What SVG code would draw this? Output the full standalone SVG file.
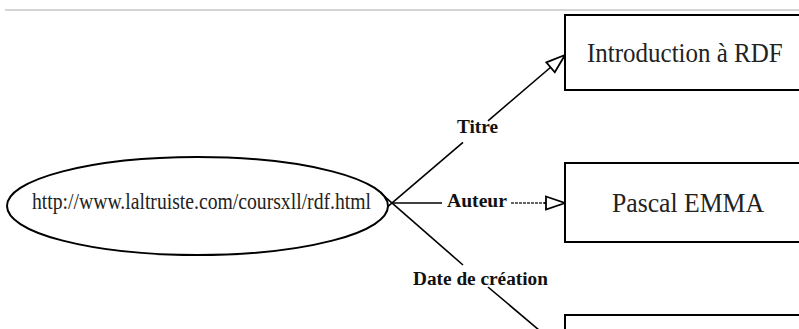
<svg xmlns="http://www.w3.org/2000/svg" width="799" height="329" viewBox="0 0 799 329">
  <style>
    .node { fill: #fff; stroke: #000; stroke-width: 2; }
    .val { font-family: "Liberation Serif", "Times New Roman", serif; font-size: 28px; fill: #222; }
    .uri { font-family: "Liberation Serif", "Times New Roman", serif; font-size: 24px; fill: #222; }
    .lbl { font-family: "Liberation Serif", "Times New Roman", serif; font-size: 18px; font-weight: bold; fill: #111; }
    .edge { stroke: #000; stroke-width: 1.6; fill: none; }
  </style>
  <defs>
    <marker id="open" markerUnits="userSpaceOnUse" markerWidth="24" markerHeight="18" viewBox="-2 -2 24 18" refX="19" refY="6.5" orient="auto">
      <path d="M0,0 L19,6.5 L0,13 Z" fill="#fff" stroke="#000" stroke-width="1.8"/>
    </marker>
  </defs>
  <rect width="799" height="329" fill="#fff"/>
  <line x1="5" y1="10" x2="799" y2="10" stroke="#aaa" stroke-width="1"/>

  <g id="edges">
    <!-- Titre -->
    <line class="edge" x1="381" y1="212.4" x2="463" y2="142.3"/>
    <line class="edge" x1="488" y1="120.9" x2="565" y2="55" marker-end="url(#open)"/>
    <text class="lbl" x="457" y="133" textLength="41" lengthAdjust="spacingAndGlyphs">Titre</text>
    <!-- Auteur -->
    <line class="edge" x1="392" y1="203" x2="442" y2="203"/>
    <text class="lbl" x="447" y="207" textLength="60" lengthAdjust="spacingAndGlyphs">Auteur</text>
    <line x1="511" y1="203" x2="546" y2="203" stroke="#333" stroke-width="1.4" stroke-dasharray="3 1"/>
    <line class="edge" x1="544" y1="203" x2="565" y2="203" marker-end="url(#open)"/>
    <!-- Date de création -->
    <line class="edge" x1="381" y1="193.4" x2="463" y2="265"/>
    <text class="lbl" x="413" y="285" textLength="135" lengthAdjust="spacingAndGlyphs">Date de création</text>
    <line class="edge" x1="488" y1="287" x2="565" y2="352" marker-end="url(#open)"/>
  </g>

  <g id="resource">
    <ellipse class="node" cx="197.5" cy="206" rx="190.5" ry="49" stroke-width="1.6"/>
    <text class="uri" x="32" y="209" textLength="339" lengthAdjust="spacingAndGlyphs">http://www.laltruiste.com/coursxll/rdf.html</text>
  </g>

  <g id="titre-value">
    <rect class="node" x="565" y="15" width="236" height="75"/>
    <!-- slightly tall face: 25px glyphs stretched vertically -->
    <text class="val" style="font-size:25px" transform="translate(587 62) scale(1 1.12)" x="0" y="0">Introduction à RDF</text>
  </g>

  <g id="auteur-value">
    <rect class="node" x="565" y="163" width="236" height="79"/>
    <text class="val" x="612" y="212" textLength="152" lengthAdjust="spacingAndGlyphs">Pascal EMMA</text>
  </g>

  <g id="date-value">
    <rect class="node" x="565" y="315" width="236" height="60"/>
  </g>
</svg>
